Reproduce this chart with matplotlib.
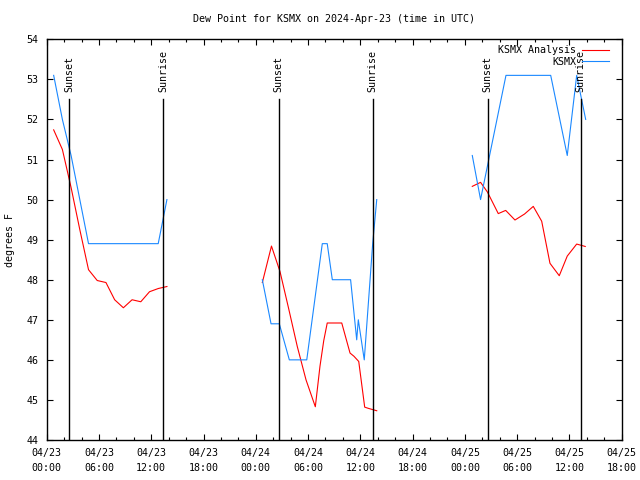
import pandas as pd
import matplotlib
matplotlib.use("Agg")
import matplotlib.pyplot as plt
import matplotlib.dates as mdates

plt.rcParams['font.family'] = ['DejaVu Sans Mono']
plt.rcParams['font.size'] = 7.2

#%% data (times in UTC)
day1_times = ["2024-04-23 %02d:48" % h for h in range(0, 14)]
day1_obs = [53.1, 52.0, 51.1, 50.0, 48.9, 48.9, 48.9, 48.9, 48.9, 48.9, 48.9, 48.9, 48.9, 50.0]
day1_ana = [51.74, 51.25, 50.3, 49.25, 48.25, 47.98, 47.93, 47.5, 47.3, 47.5, 47.45, 47.7, 47.78, 47.83]

day2_obs_times = ["2024-04-24 00:45", "2024-04-24 01:45", "2024-04-24 02:42", "2024-04-24 03:51",
                  "2024-04-24 05:51", "2024-04-24 07:38", "2024-04-24 08:12", "2024-04-24 08:47",
                  "2024-04-24 10:53", "2024-04-24 11:35", "2024-04-24 11:46", "2024-04-24 12:27",
                  "2024-04-24 13:25", "2024-04-24 13:53"]
day2_obs = [48.0, 46.9, 46.9, 46.0, 46.0, 48.9, 48.9, 48.0, 48.0, 46.5, 47.0, 46.0, 48.9, 50.0]

day2_ana_times = ["2024-04-24 00:45", "2024-04-24 01:48", "2024-04-24 02:47", "2024-04-24 03:45",
                  "2024-04-24 04:46", "2024-04-24 05:46", "2024-04-24 06:50", "2024-04-24 07:22",
                  "2024-04-24 07:48", "2024-04-24 08:12", "2024-04-24 09:52", "2024-04-24 10:11",
                  "2024-04-24 10:49", "2024-04-24 11:16", "2024-04-24 11:49", "2024-04-24 12:30",
                  "2024-04-24 12:55", "2024-04-24 13:53"]
day2_ana = [47.93, 48.84, 48.2, 47.3, 46.33, 45.5, 44.83, 45.84, 46.48, 46.92, 46.92, 46.67,
            46.17, 46.09, 45.96, 44.82, 44.79, 44.73]

day3_obs_times = ["2024-04-25 00:51", "2024-04-25 01:48", "2024-04-25 04:43", "2024-04-25 09:51",
                  "2024-04-25 11:45", "2024-04-25 12:50", "2024-04-25 13:52"]
day3_obs = [51.1, 50.0, 53.1, 53.1, 51.1, 53.1, 52.0]

day3_ana_times = ["2024-04-25 00:51", "2024-04-25 01:48", "2024-04-25 02:35", "2024-04-25 03:50",
                  "2024-04-25 04:41", "2024-04-25 05:45", "2024-04-25 06:51", "2024-04-25 07:51",
                  "2024-04-25 08:49", "2024-04-25 09:46", "2024-04-25 10:50", "2024-04-25 11:45",
                  "2024-04-25 12:50", "2024-04-25 13:49"]
day3_ana = [50.33, 50.43, 50.19, 49.65, 49.73, 49.49, 49.64, 49.83, 49.46, 48.41, 48.1, 48.59,
            48.89, 48.83]

sunset_times = ["2024-04-23 02:36", "2024-04-24 02:37", "2024-04-25 02:37"]
sunrise_times = ["2024-04-23 13:24", "2024-04-24 13:24", "2024-04-25 13:17"]

#%%
RED = "#ff0000"
BLUE = "#1a88ff"

fig = plt.figure(figsize=(6.4, 4.8), dpi=100)
ax = fig.add_axes([46.7 / 640, 40 / 480, 575 / 640, 400.7 / 480])

ana_sets = [(day1_times, day1_ana), (day2_ana_times, day2_ana), (day3_ana_times, day3_ana)]
obs_sets = [(day1_times, day1_obs), (day2_obs_times, day2_obs), (day3_obs_times, day3_obs)]

for i, (t, v) in enumerate(ana_sets):
    ax.plot(pd.to_datetime(t), v, color=RED, lw=0.8, label="KSMX Analysis" if i == 0 else None)
for i, (t, v) in enumerate(obs_sets):
    ax.plot(pd.to_datetime(t), v, color=BLUE, lw=0.8, label="KSMX" if i == 0 else None)

# sunset / sunrise markers
for name, tl in (("Sunset", sunset_times), ("Sunrise", sunrise_times)):
    for t in pd.to_datetime(tl):
        ax.plot([t, t], [44, 52.52], color="black", lw=1.0)
        ax.text(t, 52.68, name, rotation=90, ha="center", va="bottom", fontsize=7.2)

ax.set_xlim(pd.Timestamp("2024-04-23 00:00"), pd.Timestamp("2024-04-25 18:00"))
ax.set_ylim(44, 54)
ax.set_yticks(range(44, 55))

ax.xaxis.set_major_locator(mdates.HourLocator(byhour=[0, 6, 12, 18]))
ax.xaxis.set_minor_locator(mdates.HourLocator(interval=2))
ax.xaxis.set_major_formatter(mdates.DateFormatter("%m/%d\n%H:%M"))
ax.tick_params(which="both", direction="in", top=True, right=True, width=0.8)
ax.tick_params(which="major", length=4, pad=6)
ax.tick_params(which="minor", length=2)
for lab in ax.get_xticklabels():
    lab.set_linespacing(1.6)
for sp in ax.spines.values():
    sp.set_linewidth(1.0)

ax.legend(loc="upper right", bbox_to_anchor=(0.992, 1.005), frameon=False, markerfirst=False,
          handlelength=2.7, handletextpad=0.6, labelspacing=0.15, borderpad=0.3, fontsize=7.2)

fig.text(334 / 640, 1 - 19 / 480, "Dew Point for KSMX on 2024-Apr-23 (time in UTC)",
         ha="center", va="center", fontsize=7.2)
fig.text(10 / 640, 240 / 480, "degrees F", rotation=90, ha="center", va="center", fontsize=7.2)

fig.savefig("out.png", dpi=100)
